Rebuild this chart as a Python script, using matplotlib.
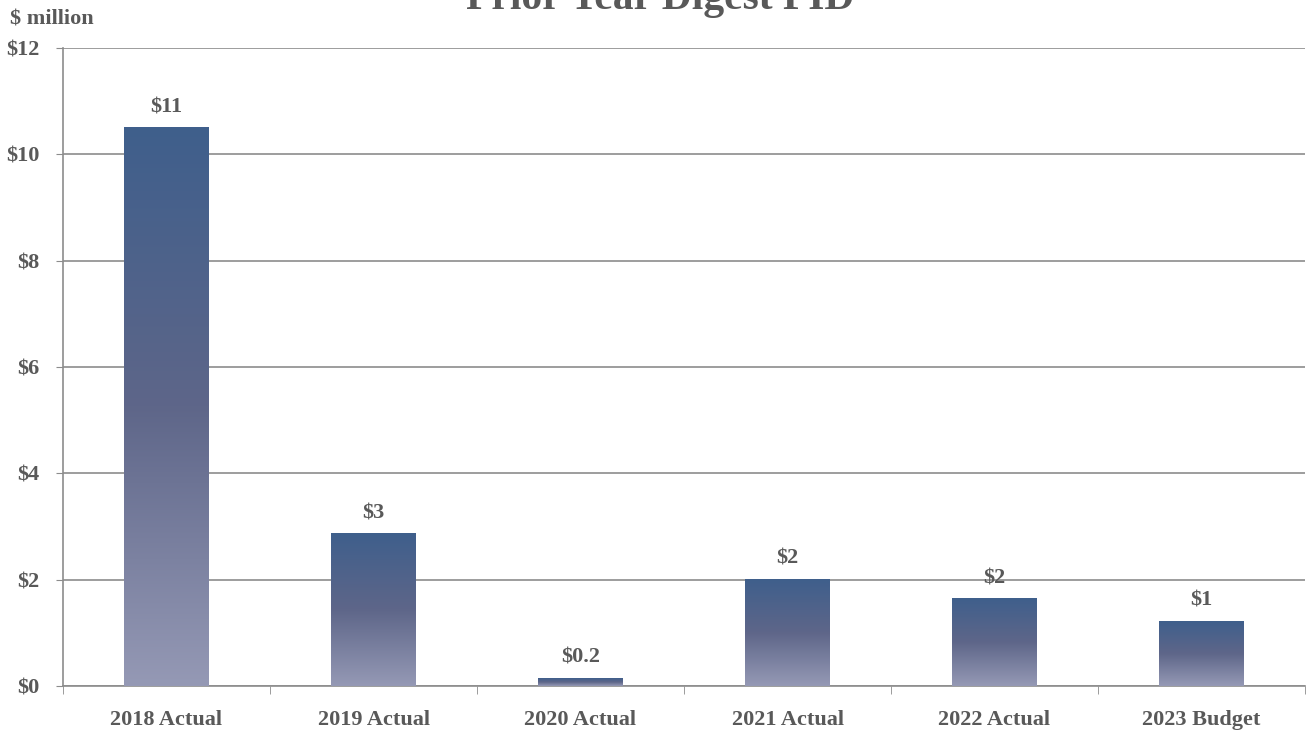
import numpy as np
import matplotlib
matplotlib.use('Agg')
import matplotlib.pyplot as plt
from matplotlib.colors import LinearSegmentedColormap

categories = ['2018 Actual', '2019 Actual', '2020 Actual', '2021 Actual', '2022 Actual', '2023 Budget']
values = [10.5, 2.86, 0.15, 2.01, 1.64, 1.22]
labels = ['$11', '$3', '$0.2', '$2', '$2', '$1']
yticks = [0, 2, 4, 6, 8, 10, 12]

plt.rcParams['font.family'] = ['Liberation Serif', 'DejaVu Serif']
plt.rcParams['font.weight'] = 'bold'
txt = '#595959'
grid = '#8c8c8c'

# bottom -> top shading of each bar
grad = LinearSegmentedColormap.from_list('bar', ['#9599b5', '#5e6689', '#3f5f8c'])

fig = plt.figure(figsize=(13.09, 7.34), dpi=100)
ax = fig.add_axes([63/1309, 48/734, (1305-63)/1309, (686-48)/734])

x = np.arange(len(categories))
bars = ax.bar(x, values, width=0.41, color='none', zorder=3)
for b in bars:
    x0, w, h = b.get_x(), b.get_width(), b.get_height()
    g = np.linspace(0, 1, 256).reshape(-1, 1)
    ax.imshow(g, cmap=grad, origin='lower', aspect='auto',
              extent=[x0, x0 + w, 0, h], zorder=3)

for xi, v, lab in zip(x, values, labels):
    ax.text(xi, v + 0.2, lab, ha='center', va='bottom', fontsize=16,
            color=txt, fontweight='bold')

ax.set_xlim(-0.5, len(categories) - 0.5)
ax.set_ylim(0, 12)
ax.set_yticks(yticks)
ax.set_yticklabels(['$%d' % t for t in yticks], fontsize=16, color=txt)
ax.set_xticks(x)
ax.set_xticklabels(categories, fontsize=16, color=txt)
ax.set_xticks(np.arange(-0.5, len(categories)), minor=True)
ax.tick_params(axis='x', which='major', length=0, pad=17)
ax.tick_params(axis='x', which='minor', length=6, color=grid, direction='out')
ax.tick_params(axis='y', length=5, color=grid, pad=12)
ax.yaxis.grid(True, color=grid, linewidth=1.2, zorder=0)
ax.set_axisbelow(True)
for s in ['top', 'right']:
    ax.spines[s].set_visible(False)
for s in ['left', 'bottom']:
    ax.spines[s].set_color(grid)
    ax.spines[s].set_linewidth(1.2)

fig.text(10/1309, 1 - 19/734, '$ million', fontsize=16, color=txt,
         fontweight='bold', va='center', ha='left')
fig.text(660/1309, 1 - 9/734, 'Prior Year Digest PID', fontsize=30,
         color=txt, fontweight='bold', ha='center', va='baseline')

fig.savefig('out.png', dpi=100)
